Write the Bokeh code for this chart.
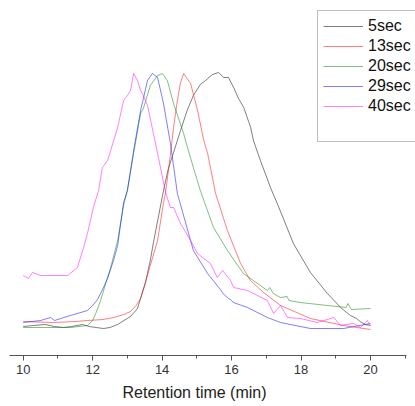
from bokeh.plotting import figure
from bokeh.models import Range1d, SingleIntervalTicker, Legend, LegendItem, Title
from bokeh.embed import file_html
from bokeh.resources import INLINE

# Retention time (min) and detector signal (arbitrary units) for each sample
t_5 = [10.0, 10.3, 10.64, 10.9, 11.16, 11.4, 11.71, 11.9, 12.1, 12.31, 12.5, 12.72, 12.9, 13.09,
       13.29, 13.38, 13.52, 13.66, 13.75, 13.9, 14.04, 14.18, 14.33, 14.53, 14.72, 14.9, 15.1,
       15.25, 15.45, 15.62, 15.72, 15.77, 15.85, 15.91, 16.06, 16.2, 16.35, 16.5, 16.55, 16.63,
       16.83, 17.12, 17.41, 17.78, 18.27, 18.76, 19.14, 19.42, 19.6, 19.7, 19.85, 20.0]
y_5 = [4, 5, 6, 4, 3, 4, 6, 4, 3, 2, 3, 6, 10, 14,
       22, 32, 48, 70, 88, 115, 140, 162, 178, 200, 220, 235, 246,
       250, 256, 258, 255, 253, 253, 253, 243, 232, 223, 208, 203, 190,
       170, 143, 119, 87, 58, 37, 23, 15, 12, 9, 6, 5]

t_13 = [10.0, 10.87, 11.5, 11.85, 12.3, 12.6, 12.9, 13.09, 13.25, 13.38, 13.52, 13.66, 13.87,
        14.04, 14.1, 14.2, 14.33, 14.44, 14.53, 14.62, 14.7, 14.82, 15.02, 15.2, 15.31, 15.54,
        15.88, 16.26, 16.54, 16.92, 17.41, 18.27, 19.22, 20.0]
y_13 = [9, 8, 9, 10, 11, 13, 16, 19, 25, 32, 48, 65, 90,
        128, 138, 165, 203, 230, 248, 257, 253, 247, 220, 190, 177, 137,
        100, 67, 50, 38, 25, 12, 5, 1]

t_20 = [10.0, 10.58, 11.36, 11.85, 12.0, 12.1, 12.23, 12.4, 12.51, 12.72, 12.89, 13.0, 13.18,
        13.38, 13.46, 13.66, 13.87, 14.01, 14.15, 14.33, 14.62, 14.73, 14.9, 15.1, 15.48, 15.88,
        16.34, 17.03, 17.1, 17.2, 17.41, 17.6, 17.65, 17.98, 18.76, 19.3, 19.35, 19.45, 20.0]
y_20 = [3, 3, 3, 5, 10, 18, 30, 50, 62, 90, 125, 140, 177,
        217, 222, 245, 255, 257, 250, 227, 197, 183, 163, 140, 103, 80,
        57, 40, 43, 37, 33, 34, 30, 28, 25, 23, 27, 21, 22]

t_29 = [10.0, 10.5, 10.79, 10.9, 11.36, 11.85, 12.0, 12.14, 12.3, 12.43, 12.6, 12.72, 12.89,
        13.0, 13.18, 13.38, 13.58, 13.72, 13.87, 14.04, 14.24, 14.44, 14.9, 15.31, 15.7, 15.75,
        15.88, 16.0, 16.05, 16.46, 17.03, 17.41, 18.27, 19.22, 20.0]
y_29 = [8, 10, 13, 10, 15, 20, 25, 31, 42, 52, 70, 85, 128,
        140, 180, 220, 250, 257, 253, 227, 187, 137, 80, 57, 40, 37,
        33, 30, 28, 23, 13, 8, 2, 2, 7]

t_40 = [10.0, 10.15, 10.27, 10.5, 11.28, 11.56, 11.74, 11.85, 12.02, 12.17, 12.28, 12.43,
        12.72, 12.89, 13.0, 13.09, 13.18, 13.29, 13.38, 13.46, 13.58, 13.87, 14.1, 14.24,
        14.33, 14.53, 14.82, 15.02, 15.39, 15.59, 15.74, 15.97, 16.06, 16.46, 17.03, 17.21,
        17.41, 17.61, 17.98, 18.47, 18.94, 19.14, 19.51, 19.71, 19.91, 20.0]
y_40 = [55, 52, 58, 55, 55, 63, 83, 97, 123, 140, 163, 170,
        203, 230, 235, 240, 257, 250, 240, 235, 225, 177, 138, 123,
        123, 107, 90, 77, 67, 53, 60, 50, 43, 40, 30, 17,
        25, 13, 12, 8, 13, 5, 7, 3, 10, 5]

labels = ["5sec", "13sec", "20sec", "29sec", "40sec"]
colors = ["black", "red", "green", "blue", "magenta"]
x_ticks_interval = 2
x_axis_title = "Retention time (min)"

series = [(t_5, y_5), (t_13, y_13), (t_20, y_20), (t_29, y_29), (t_40, y_40)]

FONT = "Liberation Sans"
X0, X1, XAXIS_END = 9.6055, 21.296, 21.036

p = figure(width=415, height=406, output_backend="svg", toolbar_location=None,
           x_range=Range1d(X0, X1), y_range=Range1d(-25, 330),
           y_axis_location=None, min_border_left=9, min_border_right=0,
           min_border_top=0, min_border_bottom=51)
p.outline_line_color = None
p.xgrid.visible = False
p.ygrid.visible = False
p.background_fill_color = "white"
p.border_fill_color = "white"

items = []
for (tx, ty), lab, col in zip(series, labels, colors):
    r = p.line(tx, ty, line_color=col, line_alpha=0.5, line_width=1)
    items.append(LegendItem(label=lab, renderers=[r]))
# blank last row of the legend box
blank = p.line([], [], line_alpha=0)
items.append(LegendItem(label=" ", renderers=[blank]))

ax = p.xaxis[0]
ax.bounds = (X0, XAXIS_END)
ax.ticker = SingleIntervalTicker(interval=x_ticks_interval, num_minor_ticks=2)
ax.axis_line_color = "#555555"
ax.major_tick_line_color = "#555555"
ax.minor_tick_line_color = "#555555"
ax.major_tick_out = 5
ax.major_tick_in = 0
ax.minor_tick_out = 3
ax.minor_tick_in = 0
ax.major_label_text_font = FONT
ax.major_label_text_font_size = "13px"
ax.major_label_text_color = "#333333"
ax.major_label_standoff = 4

title = Title(text=x_axis_title, align="left", offset=113, standoff=11,
              text_font=FONT, text_font_size="16px", text_font_style="normal",
              text_color="#222222")
p.add_layout(title, "below")

legend = Legend(items=items, location=(308, 213), padding=5, spacing=0,
                label_height=20, glyph_height=20, glyph_width=40, label_standoff=5,
                label_text_font=FONT, label_text_font_size="16px",
                label_text_color="#111111",
                border_line_color="#808080", border_line_width=1,
                background_fill_color="white", background_fill_alpha=1, margin=0)
p.add_layout(legend)

open("out.html", "w").write(file_html(p, INLINE))
